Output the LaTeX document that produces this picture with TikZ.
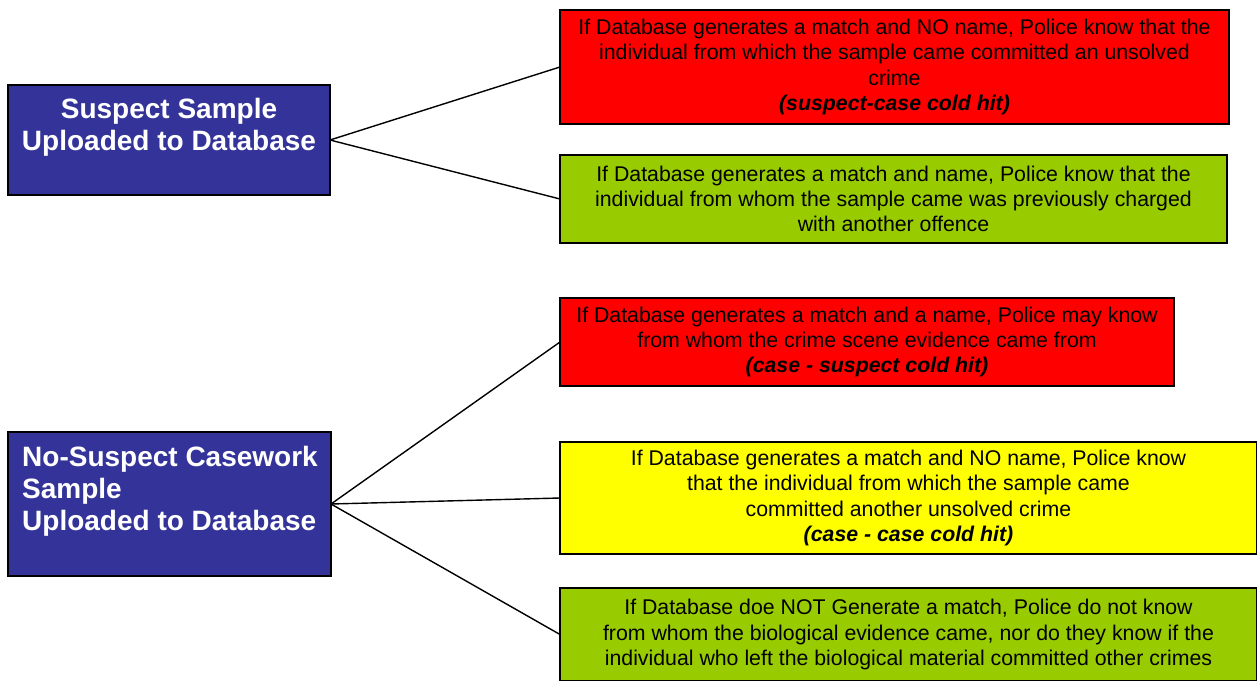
\documentclass[tikz,border=0pt]{standalone}
\usepackage{fontspec}
\setmainfont{Liberation Sans}
\definecolor{boxblue}{HTML}{333399}
\definecolor{boxred}{HTML}{FF0000}
\definecolor{boxgreen}{HTML}{99CC00}
\definecolor{boxyellow}{HTML}{FFFF00}
\begin{document}
\begin{tikzpicture}[x=1pt,y=-1pt,
  box/.style={draw=black,line width=1.6pt,rectangle,anchor=north west,inner sep=0pt,outer sep=0pt},
  bluebox/.style={box,fill=boxblue},
  infobox/.style={box,align=center,font=\fontsize{21.3}{25.3}\selectfont,text=black},
  bluetext/.style={inner sep=0pt,text=white,font=\fontsize{28}{32}\selectfont\bfseries},
  link/.style={draw=black,line width=1.4pt}]
\useasboundingbox (0,0) rectangle (1257,680);
% left boxes
\node[bluebox,minimum width=322pt,minimum height=110pt] (s1) at (8,85) {};
\node[bluetext,align=center,anchor=north] (s1t) at (169,98) {Suspect Sample\\Uploaded to Database};
\node[bluebox,minimum width=323pt,minimum height=144pt] (n1) at (8,432) {};
\node[bluetext,align=left,anchor=north west] (n1t) at (22,446) {No-Suspect Casework\\Sample\\Uploaded to Database};
% right boxes
\node[infobox,fill=boxred,minimum width=669pt,minimum height=114pt] (r1) at (560,10)
 {If Database generates a match and NO name, Police know that the\\individual from which the sample came committed an unsolved\\crime\\\textbf{\textit{(suspect-case cold hit)}}};
\node[infobox,fill=boxgreen,minimum width=667pt,minimum height=88pt] (g1) at (560,155)
 {If Database generates a match and name, Police know that the\\individual from whom the sample came was previously charged\\with another offence};
\node[infobox,fill=boxred,minimum width=614pt,minimum height=88pt] (r2) at (560,298)
 {If Database generates a match and a name, Police may know\\from whom the crime scene evidence came from\\\textbf{\textit{(case - suspect cold hit)}}};
\node[infobox,fill=boxyellow,minimum width=697pt,minimum height=112pt] (y1) at (560,442)
 {If Database generates a match and NO name, Police know\\that the individual from which the sample came\\committed another unsolved crime\\\textbf{\textit{(case - case cold hit)}}};
\node[infobox,fill=boxgreen,minimum width=697pt,minimum height=93pt] (g2) at (560,588)
 {If Database doe NOT Generate a match, Police do not know\\from whom the biological evidence came, nor do they know if the\\individual who left the biological material committed other crimes};
% connectors
\draw[link] (s1.east) -- (r1.west);
\draw[link] (s1.east) -- (g1.west);
\draw[link] (n1.east) -- (r2.west);
\draw[link] (n1.east) -- (y1.west);
\draw[link] (n1.east) -- (g2.west);
\end{tikzpicture}
\end{document}
